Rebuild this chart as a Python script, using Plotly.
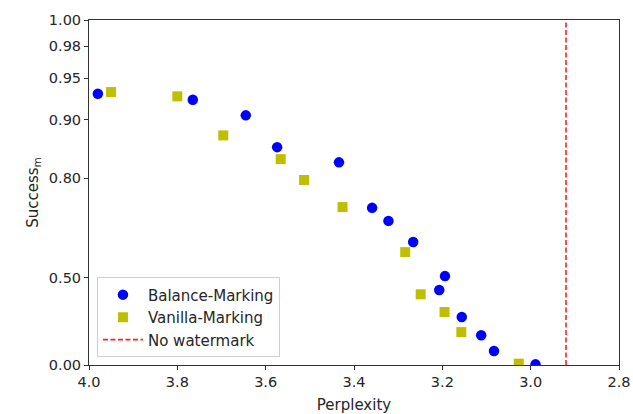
import numpy as np
import plotly.graph_objects as go

# Balance-Marking results (perplexity, success rate)
balance_ppl = [3.980, 3.765, 3.645, 3.574, 3.434, 3.359, 3.322, 3.266, 3.194, 3.207, 3.156, 3.112, 3.083, 2.989]
balance_succ = [0.933, 0.926, 0.906, 0.858, 0.831, 0.731, 0.696, 0.632, 0.507, 0.447, 0.312, 0.205, 0.102, 0.005]

# Vanilla-Marking results
vanilla_ppl = [3.950, 3.800, 3.696, 3.566, 3.513, 3.426, 3.284, 3.249, 3.195, 3.157, 3.027]
vanilla_succ = [0.935, 0.930, 0.877, 0.837, 0.796, 0.733, 0.598, 0.427, 0.339, 0.225, 0.010]

# Perplexity of the un-watermarked model
no_watermark_ppl = 2.92

x_ticks = [4.0, 3.8, 3.6, 3.4, 3.2, 3.0, 2.8]
y_ticks = [0.00, 0.50, 0.80, 0.90, 0.95, 0.98, 1.00]


def scale(y):
    """Stretch values near 1: t(y) = log10(1.1 / (1.1 - y))."""
    y = np.asarray(y, dtype=float)
    return np.log10(1.1 / (1.1 - y))


font = "DejaVu Sans, Arial, sans-serif"
ink = "#262626"
fig = go.Figure()

fig.add_trace(go.Scatter(
    x=balance_ppl, y=scale(balance_succ), mode="markers", name="Balance-Marking",
    marker=dict(symbol="circle", size=10.5, color="#0000ff", line=dict(width=0)),
))
fig.add_trace(go.Scatter(
    x=vanilla_ppl, y=scale(vanilla_succ), mode="markers", name="Vanilla-Marking",
    marker=dict(symbol="square", size=10, color="#bfbf00", line=dict(width=0)),
))
fig.add_trace(go.Scatter(
    x=[no_watermark_ppl, no_watermark_ppl], y=scale([0.0, 1.0]), mode="lines",
    name="No watermark", line=dict(color="#ff2020", width=1.6, dash="5px,2.5px"),
))

axis_common = dict(
    showline=True, linecolor="#333333", linewidth=1, mirror=True,
    ticks="outside", ticklen=4, tickcolor="#333333", tickwidth=1,
    showgrid=False, zeroline=False,
    tickfont=dict(family=font, size=14.5, color=ink),
)

fig.update_xaxes(
    range=[4.0, 2.8], tickvals=x_ticks,
    ticktext=[f"{v:.1f}" for v in x_ticks],
    title=dict(text="Perplexity", font=dict(family=font, size=15, color=ink)),
    automargin=False,
    **axis_common,
)
fig.update_yaxes(
    range=[float(scale(0.0)), float(scale(1.0))], tickvals=scale(y_ticks).tolist(),
    ticktext=[f"{v:.2f}" for v in y_ticks],
    title=dict(text="Success<sub>m</sub>", font=dict(family=font, size=15, color=ink), standoff=6),
    automargin=True,
    **axis_common,
)

fig.update_layout(
    width=633, height=414,
    margin=dict(l=89, r=14, t=20, b=49),
    plot_bgcolor="white", paper_bgcolor="white",
    font=dict(family=font, size=15, color=ink),
    legend=dict(
        x=0.015, y=0.022, xanchor="left", yanchor="bottom",
        bgcolor="rgba(255,255,255,0.8)", bordercolor="#d0d0d0", borderwidth=1,
        itemwidth=40,
        font=dict(family=font, size=15, color=ink),
    ),
)

fig.write_html("out.html")
